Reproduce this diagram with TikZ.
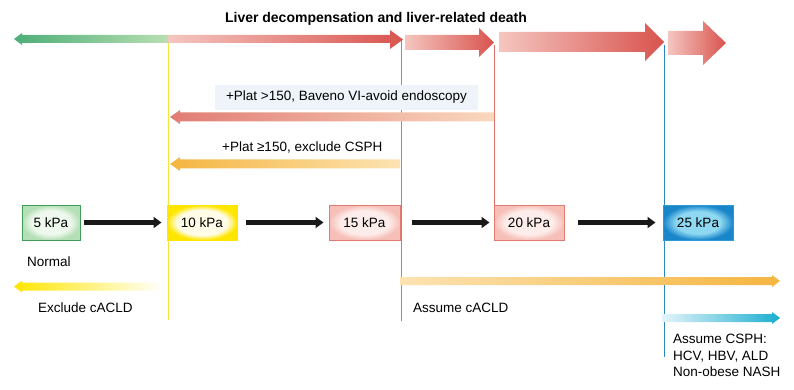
\documentclass[tikz,border=0pt]{standalone}
\usepackage{fontspec}
\setmainfont{Liberation Sans}
\usepackage{xcolor}
\usetikzlibrary{positioning,calc,arrows.meta}

\definecolor{greenD}{HTML}{4DAE78}
\definecolor{greenL}{HTML}{B8DFB2}
\definecolor{redL}{HTML}{F5C6C0}
\definecolor{redD}{HTML}{D9534E}
\definecolor{redM}{HTML}{E07C74}
\definecolor{peach}{HTML}{FAD8BE}
\definecolor{orgD}{HTML}{F5B540}
\definecolor{orgL}{HTML}{FCE3B2}
\definecolor{cyanD}{HTML}{1AAED0}
\definecolor{cyanL}{HTML}{E4F4FA}
\definecolor{yelD}{HTML}{FFE600}
\definecolor{yelC}{HTML}{FFFCE8}
\definecolor{lineY}{HTML}{F2E640}
\definecolor{lineR}{HTML}{E07068}
\definecolor{lineB}{HTML}{2A86C0}
\definecolor{boxG}{HTML}{3E9E55}
\definecolor{boxGi}{HTML}{EEF8EC}
\definecolor{boxGo}{HTML}{B5DFB6}
\definecolor{boxR}{HTML}{E27A72}
\definecolor{boxRi}{HTML}{FDEDEA}
\definecolor{boxRo}{HTML}{F6BFB8}
\definecolor{boxB}{HTML}{2C9AD6}
\definecolor{boxBi}{HTML}{8ED8F2}
\definecolor{boxBo}{HTML}{1A86CA}
\definecolor{labelbg}{HTML}{EEF4FA}

% soft inner glow for the kPa boxes
\pgfdeclareradialshading{glowG}{\pgfpoint{0bp}{0bp}}{color(0bp)=(boxGi); color(17bp)=(boxGi); color(25bp)=(boxGo); color(50bp)=(boxGo)}
\pgfdeclareradialshading{glowY}{\pgfpoint{0bp}{0bp}}{color(0bp)=(yelC); color(18bp)=(yelC); color(25bp)=(yelD); color(50bp)=(yelD)}
\pgfdeclareradialshading{glowR}{\pgfpoint{0bp}{0bp}}{color(0bp)=(boxRi); color(17bp)=(boxRi); color(25bp)=(boxRo); color(50bp)=(boxRo)}
\pgfdeclareradialshading{glowB}{\pgfpoint{0bp}{0bp}}{color(0bp)=(boxBi); color(16bp)=(boxBi); color(25bp)=(boxBo); color(50bp)=(boxBo)}

\begin{document}
\begin{tikzpicture}[x=1pt, y=-1pt,
  txt/.style={font=\fontsize{13.5}{16.5}\selectfont, inner sep=0pt},
  kpa/.style={draw, shade, line width=1pt, minimum height=35pt, font=\fontsize{13.5}{16}\selectfont, inner sep=0pt},
  blk/.style={draw=black!90, line width=5.5pt, -{Triangle[length=8pt,width=11pt]}},
  vline/.style={line width=0.9pt}]
  \useasboundingbox (0,0) rectangle (794,390);

  % Vertical markers
  \draw[vline, lineY] (168,39) -- (168,320);
  \draw[vline, lineR] (401,39) -- (401,321);
  \draw[vline, lineR] (494,45) -- (494,205);
  \draw[vline, lineB] (664,45) -- (664,357);

  % Top: liver decompensation arrows
  \node[txt, font=\fontsize{14}{16}\selectfont\bfseries] (title) at (376,19) {Liver decompensation and liver-related death};
  \shade[left color=greenD, right color=greenL] (14,39) -- (22,33) -- (22,35) -- (168,35) -- (168,43) -- (22,43) -- (22,45) -- cycle;
  \shade[left color=redL, right color=redD] (168,35) -- (390,35) -- (390,30) -- (403,39.5) -- (390,49) -- (390,43) -- (168,43) -- cycle;
  \shade[left color=redL, right color=redD] (405,35) -- (479,35) -- (479,28) -- (494,42.5) -- (479,57) -- (479,50) -- (405,50) -- cycle;
  \shade[left color=redL, right color=redD] (499,32) -- (645,32) -- (645,23) -- (664,42) -- (645,61) -- (645,52) -- (499,52) -- cycle;
  \shade[left color=redL, right color=redD] (668,31) -- (703,31) -- (703,21) -- (726,43) -- (703,65) -- (703,55) -- (668,55) -- cycle;

  % Platelet rules
  \node[txt, fill=labelbg, minimum width=263pt, minimum height=25pt] (plat1) at (346.5,97.5) {+Plat >150, Baveno VI-avoid endoscopy};
  \shade[left color=redM, right color=peach] (170,117) -- (180,110) -- (180,112.5) -- (494,112.5) -- (494,121.5) -- (180,121.5) -- (180,124) -- cycle;
  \node[txt, anchor=west] (plat2) at (222,147) {+Plat ≥150, exclude CSPH};
  \shade[left color=orgD, right color=orgL] (170,164) -- (180,157) -- (180,159.5) -- (400,159.5) -- (400,168.5) -- (180,168.5) -- (180,171) -- cycle;

  % Stiffness values
  \node[kpa, draw=boxG, shading=glowG, minimum width=58pt] (b5) at (51,222.5) {5 kPa};
  \node[kpa, draw=yelD, shading=glowY, minimum width=70pt] (b10) at (202,222.5) {10 kPa};
  \node[kpa, draw=boxR, shading=glowR, minimum width=71pt] (b15) at (364.5,222.5) {15 kPa};
  \node[kpa, draw=boxR, shading=glowR, minimum width=70pt] (b20) at (529,222.5) {20 kPa};
  \node[kpa, draw=boxB, shading=glowB, minimum width=70pt] (b25) at (698,222.5) {25 kPa};

  \draw[blk, shorten <=3pt, shorten >=5pt] (b5) -- (b10);
  \draw[blk, shorten <=8pt, shorten >=5pt] (b10) -- (b15);
  \draw[blk, shorten <=11pt, shorten >=4pt] (b15) -- (b20);
  \draw[blk, shorten <=13pt, shorten >=7pt] (b20) -- (b25);

  % Bottom: interpretation
  \node[txt, anchor=west] (normal) at (27,262) {Normal};
  \shade[left color=yelD, right color=white] (14,286.5) -- (22,280.5) -- (22,282.5) -- (163,282.5) -- (163,290.5) -- (22,290.5) -- (22,292.5) -- cycle;
  \node[txt, anchor=west] (excl) at (38,308) {Exclude cACLD};

  \shade[left color=orgL, right color=orgD] (400,277) -- (772,277) -- (772,275) -- (780,281) -- (772,287) -- (772,285) -- (400,285) -- cycle;
  \node[txt, anchor=west] (assume) at (413,308) {Assume cACLD};

  \shade[left color=cyanL, right color=cyanD] (662,314) -- (772,314) -- (772,312) -- (780,318) -- (772,324) -- (772,322) -- (662,322) -- cycle;
  \node[txt, anchor=north west, align=left] (csph) at (673,334) {Assume CSPH:\\HCV, HBV, ALD\\Non-obese NASH};
\end{tikzpicture}
\end{document}
